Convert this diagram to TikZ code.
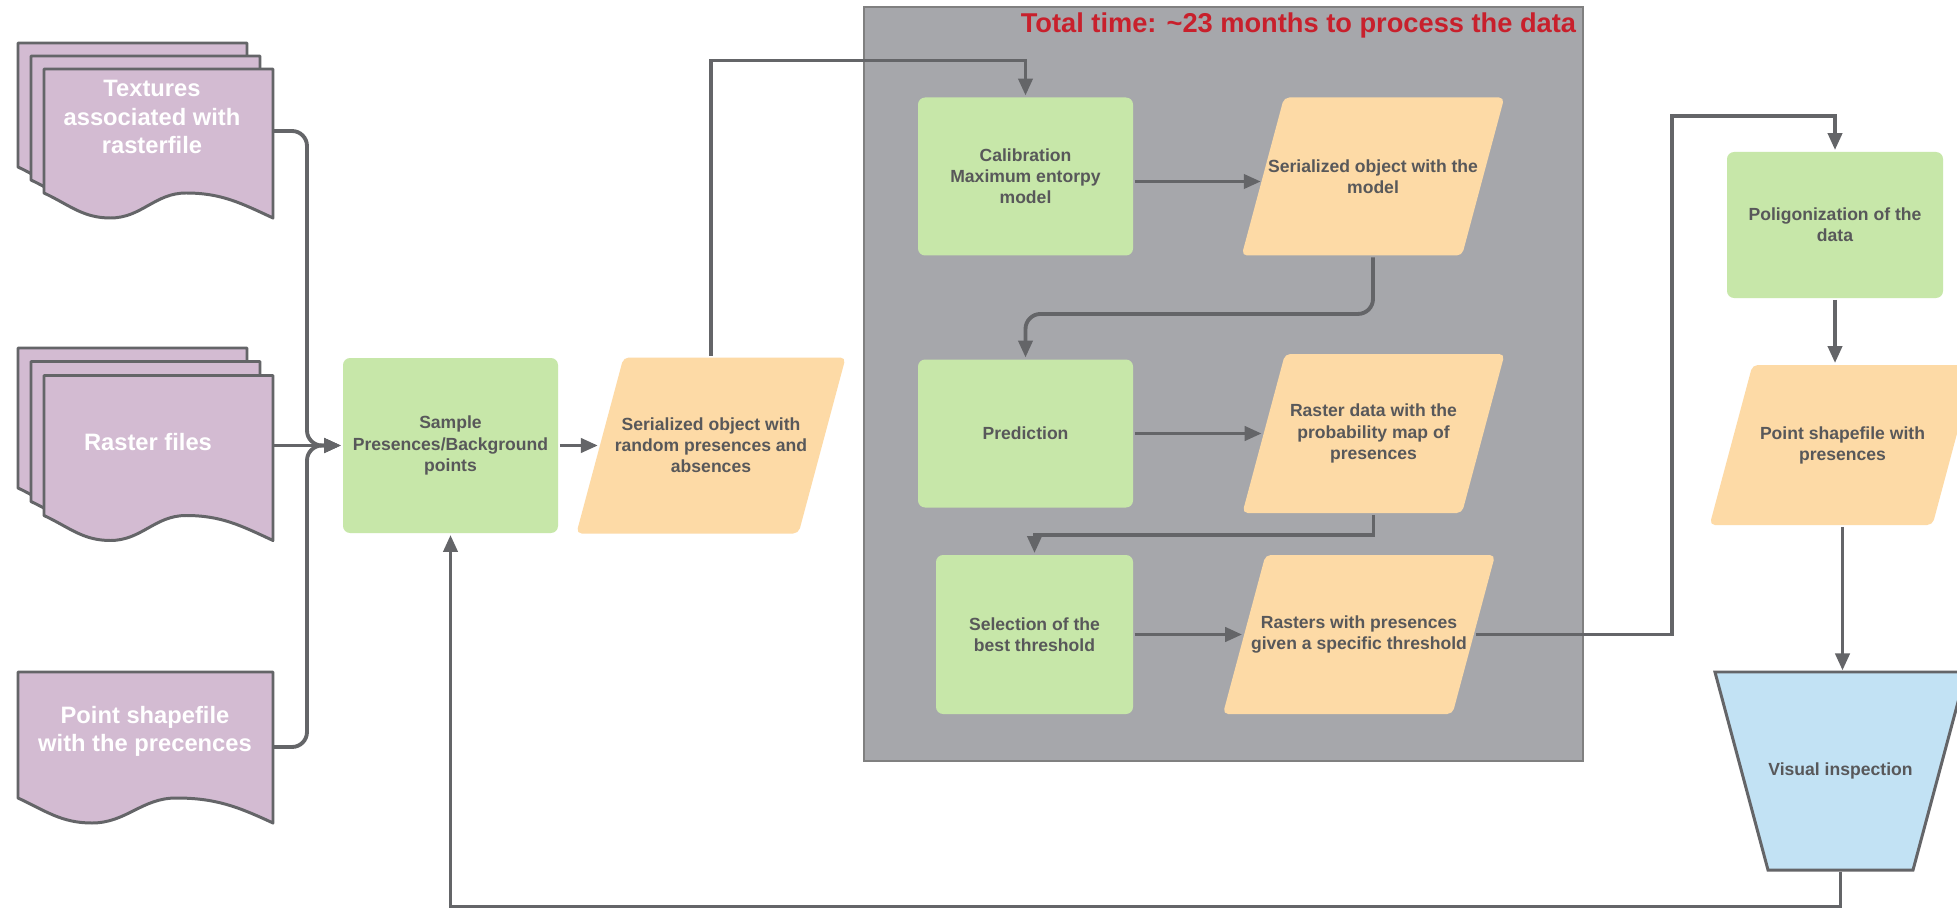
\documentclass[tikz,border=0pt]{standalone}
\usepackage{fontspec}
\setmainfont{Liberation Sans}
\usetikzlibrary{arrows.meta,shapes.geometric,positioning}

\definecolor{docpurple}{RGB}{211,187,210}
\definecolor{procgreen}{RGB}{199,231,169}
\definecolor{dataorange}{RGB}{253,218,166}
\definecolor{framegray}{RGB}{166,167,171}
\definecolor{checkblue}{RGB}{194,226,244}
\definecolor{linegray}{RGB}{100,101,104}
\definecolor{textgray}{RGB}{88,88,90}
\definecolor{titlered}{RGB}{200,32,44}

% one sheet of a document stack: top left corner, width, height of the left side
\newcommand{\docsheet}[4]{%
  \draw[docline] (#1,#2) -- ++(#3,0) -- ++(0,-#4-0.5)
    to[out=155,in=0] ++(-0.38*#3,0.5)
    to[out=180,in=0] ++(-0.33*#3,-0.5)
    to[out=180,in=-25] ++(-0.29*#3,0.5) -- cycle;}

\begin{document}
\begin{tikzpicture}[>={Triangle[length=0.34cm,width=0.28cm]}, line width=2.2pt,
    font=\fontsize{10}{12}\selectfont\bfseries,
    procbox/.style={rectangle, rounded corners=4pt, fill=procgreen, text=textgray, align=center},
    databox/.style={trapezium, trapezium left angle=75, trapezium right angle=105,
      fill=dataorange, rounded corners=3pt},
    datatext/.style={text=textgray, align=center},
    docline/.style={draw=linegray, line width=1.7pt, fill=docpurple, line join=round},
    docbody/.style={inner sep=0pt, outer sep=0pt},
    doctext/.style={text=white, align=center, font=\fontsize{13.5}{16}\selectfont\bfseries},
    flow/.style={->, draw=linegray}]
    \fill[white] (0,0) rectangle (39.14,-18.16);
    \useasboundingbox (0,0) rectangle (39.14,-18.16);
    \clip (0,0) rectangle (39.14,-18.16);

    % inputs
    \docsheet{0.36}{-0.86}{4.58}{2.48}
    \docsheet{0.62}{-1.12}{4.58}{2.48}
    \docsheet{0.88}{-1.38}{4.58}{2.48}
    \node[docbody, minimum width=4.58cm, minimum height=2.48cm] (tex) at (3.17,-2.62) {};
    \node[doctext] (textex) at (3.04,-2.34) {Textures\\associated with\\rasterfile};

    \docsheet{0.36}{-6.96}{4.58}{2.8}
    \docsheet{0.62}{-7.23}{4.58}{2.8}
    \docsheet{0.88}{-7.51}{4.58}{2.8}
    \node[docbody, minimum width=4.58cm, minimum height=2.8cm] (ras) at (3.17,-8.91) {};
    \node[doctext] (textras) at (2.96,-8.84) {Raster files};

    \docsheet{0.36}{-13.44}{5.1}{2.52}
    \node[docbody, minimum width=5.1cm, minimum height=2.52cm] (pt) at (2.91,-14.7) {};
    \node[doctext] (textpt) at (2.9,-14.62) {Point shapefile\\with the precences};

    % processing frame
    \node[draw=gray, line width=0.6pt, fill=framegray, minimum width=14.38cm, minimum height=15.08cm] (frame) at (24.47,-7.68) {};
    \node[anchor=east, inner xsep=0pt, text=titlered, font=\fontsize{15.5}{18}\selectfont\bfseries] (total) at (31.56,-0.5) {Total time: \textasciitilde23 months to process the data};

    \node[procbox, minimum width=4.3cm, minimum height=3.5cm] (sample) at (9.01,-8.91) {Sample\\Presences/Background\\points};
    \node[databox, inner xsep=1.75cm, inner ysep=1.76cm,
      label={[datatext]center:Serialized object with\\random presences and\\absences}] (rnd) at (14.22,-8.91) {};

    \node[procbox, minimum width=4.3cm, minimum height=3.16cm] (calib) at (20.51,-3.53) {Calibration\\Maximum entorpy\\model};
    \node[databox, inner xsep=1.78cm, inner ysep=1.58cm,
      label={[datatext]center:Serialized object with the\\model}] (model) at (27.46,-3.53) {};
    \node[procbox, minimum width=4.3cm, minimum height=2.96cm] (pred) at (20.51,-8.67) {Prediction};
    \node[databox, inner xsep=1.77cm, inner ysep=1.59cm,
      label={[datatext]center:Raster data with the\\probability map of\\presences}] (prob) at (27.47,-8.67) {};
    \node[procbox, minimum width=3.94cm, minimum height=3.18cm] (thresh) at (20.69,-12.69) {Selection of the\\best threshold};
    \node[databox, inner xsep=1.87cm, inner ysep=1.59cm,
      label={[datatext]center:Rasters with presences\\given a specific threshold}] (pres) at (27.18,-12.69) {};

    % output side
    \node[procbox, minimum width=4.32cm, minimum height=2.92cm] (polig) at (36.7,-4.5) {Poligonization of the\\data};
    \node[databox, inner xsep=1.8cm, inner ysep=1.6cm,
      label={[datatext]center:Point shapefile with\\presences}] (ptout) at (36.85,-8.9) {};
    \node[trapezium, trapezium left angle=105, trapezium right angle=105, draw=linegray, line width=1.7pt,
      fill=checkblue, inner xsep=1.45cm, inner ysep=1.98cm,
      label={[datatext]center:Visual inspection}] (visual) at (36.81,-15.42) {};

    \coordinate (bus) at (6.14,-8.91);
    \draw[flow, rounded corners=0.3cm] (tex.east) -| (bus) -- (sample.west);
    \draw[flow, rounded corners=0.3cm] ([yshift=-0.24cm]pt.east) -| (bus) -- (sample.west);
    \draw[flow] (ras.east) -- (sample.west);
    \draw[flow] (sample.east) -- (rnd.west);
    \draw[flow] (rnd.north) -- ++(0,5.9) -| (calib.north);
    \draw[flow] ([yshift=-0.1cm]calib.east) -- ([yshift=-0.1cm]model.west);
    \draw[flow, rounded corners=0.3cm] (model.south) -- ++(0,-1.13) -| (pred.north);
    \draw[flow] (pred.east) -- (prob.west);
    \draw[flow] (prob.south) -- ++(0,-0.4) -| (thresh.north);
    \draw[flow] (thresh.east) -- (pres.west);
    \draw[flow] (pres.east) -- ++(3.92,0) -- ++(0,10.37) -| (polig.north);
    \draw[flow] (polig.south) -- (polig.south |- ptout.north);
    \draw[flow] (ptout.south) -- (ptout.south |- visual.north);
    \draw[flow] (visual.south) -- ++(0,-0.7) -| (sample.south);
\end{tikzpicture}
\end{document}
